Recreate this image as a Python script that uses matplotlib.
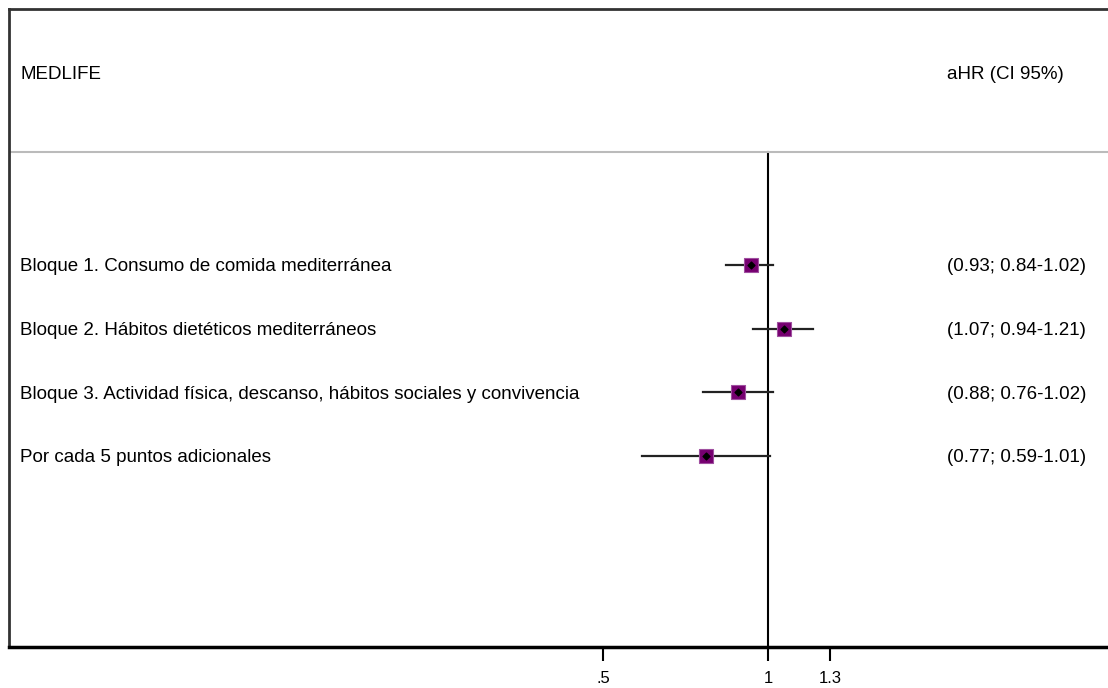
import numpy as np
import matplotlib.pyplot as plt
import matplotlib.transforms as mtransforms

plt.rcParams['font.family'] = ['Liberation Sans', 'DejaVu Sans']

# data
labels = ['Bloque 1. Consumo de comida mediterránea',
          'Bloque 2. Hábitos dietéticos mediterráneos',
          'Bloque 3. Actividad física, descanso, hábitos sociales y convivencia',
          'Por cada 5 puntos adicionales']
hr = [0.93, 1.07, 0.88, 0.77]
lo = [0.84, 0.94, 0.76, 0.59]
hi = [1.02, 1.21, 1.02, 1.01]
xticks = [0.5, 1, 1.3]
xticklabels = ['.5', '1', '1.3']

W, H = 1108, 688
fig = plt.figure(figsize=(W / 100, H / 100), dpi=100)
ax = fig.add_axes([9 / W, (H - 647) / H, (W - 9) / W, (647 - 9) / H])

ax.set_xscale('log')
ppl = 165 / np.log(2)  # pixels per ln unit
ax.set_xlim(np.exp((9 - 768) / ppl), np.exp((W - 768) / ppl))
ax.set_ylim(7.0, -3.02)

ypos = np.arange(1, len(labels) + 1)

# null line
ax.plot([1, 1], [-0.774, 7.0], color='black', lw=1.5, zorder=2)
# header separator
ax.axhline(-0.774, color='#bbbbbb', lw=1.5)

for y, h, l, u in zip(ypos, hr, lo, hi):
    ax.plot([l, u], [y, y], color='#222222', lw=1.6, zorder=3)
ax.scatter(hr, ypos, marker='s', s=95, color='#760070', edgecolor='#a050a0',
           linewidth=0.8, zorder=4)
ax.scatter(hr, ypos, marker='D', s=12, color='black', zorder=5)

# spines
ax.spines['right'].set_visible(False)
ax.spines['left'].set_color('#333333')
ax.spines['left'].set_linewidth(2)
ax.spines['top'].set_color('#333333')
ax.spines['top'].set_linewidth(2)
ax.spines['bottom'].set_color('black')
ax.spines['bottom'].set_linewidth(2.5)

ax.set_yticks([])
ax.set_xticks(xticks)
ax.set_xticklabels(xticklabels, fontsize=12)
ax.xaxis.set_minor_locator(plt.NullLocator())
ax.tick_params(axis='x', length=10, width=1.5, pad=7, color='black')

tr = mtransforms.blended_transform_factory(fig.transFigure, ax.transData)
fs = 13.5
va = 'center_baseline'
ax.text(20 / W, -2.03, 'MEDLIFE', transform=tr, fontsize=fs, va=va, ha='left')
ax.text(947 / W, -2.03, 'aHR (CI 95%)', transform=tr, fontsize=fs, va=va, ha='left')
for y, lab, h, l, u in zip(ypos, labels, hr, lo, hi):
    ax.text(20 / W, y, lab, transform=tr, fontsize=fs, va=va, ha='left')
    ax.text(947 / W, y, '(%.2f; %.2f-%.2f)' % (h, l, u), transform=tr,
            fontsize=fs, va=va, ha='left')

fig.savefig('out.png', dpi=100)
